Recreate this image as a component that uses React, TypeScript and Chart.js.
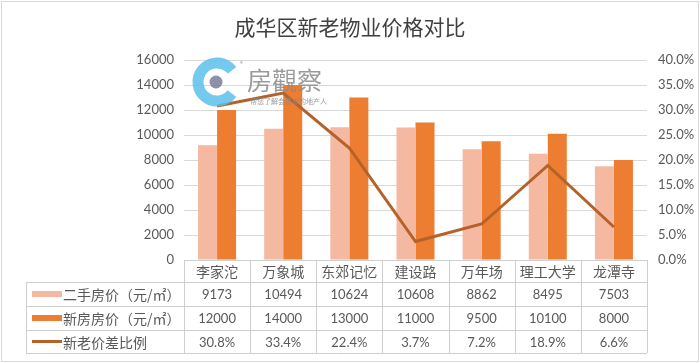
import React, { useEffect, useRef } from "react";
import { Chart, registerables } from "chart.js";

Chart.register(...registerables);

const titleText = "成华区新老物业价格对比";
const categories = ["李家沱", "万象城", "东郊记忆", "建设路", "万年场", "理工大学", "龙潭寺"];
const seriesNames = ["二手房价（元/㎡）", "新房房价（元/㎡）", "新老价差比例"];
const secondHandPrice = [9173, 10494, 10624, 10608, 8862, 8495, 7503];
const newHomePrice = [12000, 14000, 13000, 11000, 9500, 10100, 8000];
const priceGapRatio = [30.8, 33.4, 22.4, 3.7, 7.2, 18.9, 6.6];

const COLOR_LIGHT = "#F5B8A0";
const COLOR_DARK = "#ED7D31";
const COLOR_LINE = "#B4622A";
const TEXT = "#595959";
const GRID = "#D9D9D9";
const NUM_FONT = 'Lato, "Noto Sans CJK SC", sans-serif';
const CJK_FONT = '"Noto Sans CJK SC", sans-serif';

const extrasPlugin = {
  id: "extras",
  beforeDraw(chart: any) {
    const ctx = chart.ctx;
    ctx.save();
    ctx.fillStyle = "#ffffff";
    ctx.fillRect(0, 0, chart.width, chart.height);
    ctx.strokeStyle = "#D9D9D9";
    ctx.lineWidth = 1;
    ctx.strokeRect(1.5, 1.5, chart.width - 3, chart.height - 3);
    ctx.fillStyle = "#404040";
    ctx.font = `21px ${CJK_FONT}`;
    ctx.textAlign = "center";
    ctx.textBaseline = "middle";
    ctx.fillText(titleText, chart.width / 2, 27);
    ctx.restore();
  },
  afterDatasetsDraw(chart: any) {
    const ctx = chart.ctx;
    ctx.save();
    ctx.globalAlpha = 0.85;
    const cx = 217, cy = 82;
    ctx.strokeStyle = "#5BC0EB";
    ctx.lineWidth = 11;
    ctx.beginPath();
    ctx.arc(cx, cy, 19, (38 * Math.PI) / 180, (322 * Math.PI) / 180);
    ctx.stroke();
    ctx.fillStyle = "#7B7D9B";
    ctx.beginPath();
    ctx.arc(cx - 1, cy, 6.5, 0, Math.PI * 2);
    ctx.fill();
    ctx.fillStyle = "#8A8A8A";
    ctx.font = `25px ${CJK_FONT}`;
    ctx.textAlign = "left";
    ctx.textBaseline = "middle";
    ctx.fillText("房觀察", 247, 80);
    ctx.font = `6px ${CJK_FONT}`;
    ctx.fillText("®", 240, 64);
    ctx.font = `7px ${CJK_FONT}`;
    ctx.fillText("帮您了解会思考的地产人", 250, 101);
    ctx.restore();
  },
  afterDraw(chart: any) {
    const ctx = chart.ctx;
    const area = chart.chartArea;
    const n = categories.length;
    const colW = (area.right - area.left) / n;
    const xs = chart.scales.x;
    const tableLeft = 26;
    const rowY = [area.bottom, 282, 306, 330, 353];
    ctx.save();
    ctx.strokeStyle = "#CFCFCF";
    ctx.lineWidth = 1;
    ctx.beginPath();
    ctx.moveTo(area.left, rowY[0] + 0.5);
    ctx.lineTo(area.right, rowY[0] + 0.5);
    for (let r = 1; r < rowY.length; r++) {
      ctx.moveTo(tableLeft, rowY[r] + 0.5);
      ctx.lineTo(area.right, rowY[r] + 0.5);
    }
    ctx.moveTo(tableLeft + 0.5, rowY[1]);
    ctx.lineTo(tableLeft + 0.5, rowY[4]);
    for (let i = 0; i <= n; i++) {
      const x = Math.round(area.left + i * colW) + 0.5;
      ctx.moveTo(x, rowY[0]);
      ctx.lineTo(x, rowY[4]);
    }
    ctx.stroke();

    ctx.fillStyle = TEXT;
    ctx.textAlign = "center";
    ctx.textBaseline = "middle";
    ctx.font = `14px ${CJK_FONT}`;
    categories.forEach((c, i) => {
      ctx.fillText(c, xs.getPixelForValue(i), (rowY[0] + rowY[1]) / 2 + 1);
    });
    const rows = [
      secondHandPrice.map((v) => String(v)),
      newHomePrice.map((v) => String(v)),
      priceGapRatio.map((v) => v.toFixed(1) + "%"),
    ];
    ctx.font = `13px ${NUM_FONT}`;
    rows.forEach((row, r) => {
      const y = (rowY[r + 1] + rowY[r + 2]) / 2 + 1;
      row.forEach((t, i) => ctx.fillText(t, xs.getPixelForValue(i), y));
    });
    const keyColors = [COLOR_LIGHT, COLOR_DARK, COLOR_LINE];
    seriesNames.forEach((name, r) => {
      const y = (rowY[r + 1] + rowY[r + 2]) / 2;
      ctx.fillStyle = keyColors[r];
      if (r < 2) ctx.fillRect(32, y - 3, 30, 6);
      else ctx.fillRect(32, y - 1.5, 30, 3);
      ctx.fillStyle = TEXT;
      ctx.textAlign = "left";
      ctx.font = `14px ${CJK_FONT}`;
      ctx.fillText(name, 63, y + 1);
    });
    ctx.restore();
  },
};

export default function App() {
  const ref = useRef<HTMLCanvasElement | null>(null);
  useEffect(() => {
    if (!ref.current) return;
    const chart = new Chart(ref.current, {
      type: "bar",
      data: {
        labels: categories,
        datasets: [
          {
            type: "line",
            label: seriesNames[2],
            data: priceGapRatio,
            yAxisID: "y1",
            borderColor: COLOR_LINE,
            backgroundColor: COLOR_LINE,
            borderWidth: 3,
            pointRadius: 0,
            tension: 0,
            order: 0,
          } as any,
          {
            label: seriesNames[0],
            data: secondHandPrice,
            backgroundColor: COLOR_LIGHT,
            yAxisID: "y",
            order: 1,
            barPercentage: 1,
            categoryPercentage: 0.575,
          },
          {
            label: seriesNames[1],
            data: newHomePrice,
            backgroundColor: COLOR_DARK,
            yAxisID: "y",
            order: 1,
            barPercentage: 1,
            categoryPercentage: 0.575,
          },
        ],
      },
      options: {
        responsive: false,
        animation: false,
        devicePixelRatio: 1,
        layout: { padding: { top: 60, bottom: 103, left: 0, right: 0 } },
        plugins: { legend: { display: false }, title: { display: false }, tooltip: { enabled: false } },
        scales: {
          x: { display: false, offset: true },
          y: {
            position: "left",
            min: 0,
            max: 16000,
            border: { display: false },
            grid: { color: GRID, drawTicks: false, lineWidth: 1 },
            ticks: {
              stepSize: 2000,
              padding: 10,
              color: TEXT,
              font: { family: NUM_FONT, size: 13 },
              callback: (v: any) => String(v),
            },
            afterFit: (s: any) => {
              s.width = 184;
            },
          },
          y1: {
            position: "right",
            min: 0,
            max: 40,
            border: { display: false },
            grid: { display: false, drawTicks: false },
            ticks: {
              stepSize: 5,
              padding: 11,
              color: TEXT,
              font: { family: NUM_FONT, size: 13 },
              callback: (v: any) => Number(v).toFixed(1) + "%",
            },
            afterFit: (s: any) => {
              s.width = 53;
            },
          },
        },
      },
      plugins: [extrasPlugin],
    });
    return () => chart.destroy();
  }, []);
  return (
    <div style={{ position: "absolute", left: 0, top: 0, width: 700, height: 363 }}>
      <canvas ref={ref} width={700} height={363} />
    </div>
  );
}
